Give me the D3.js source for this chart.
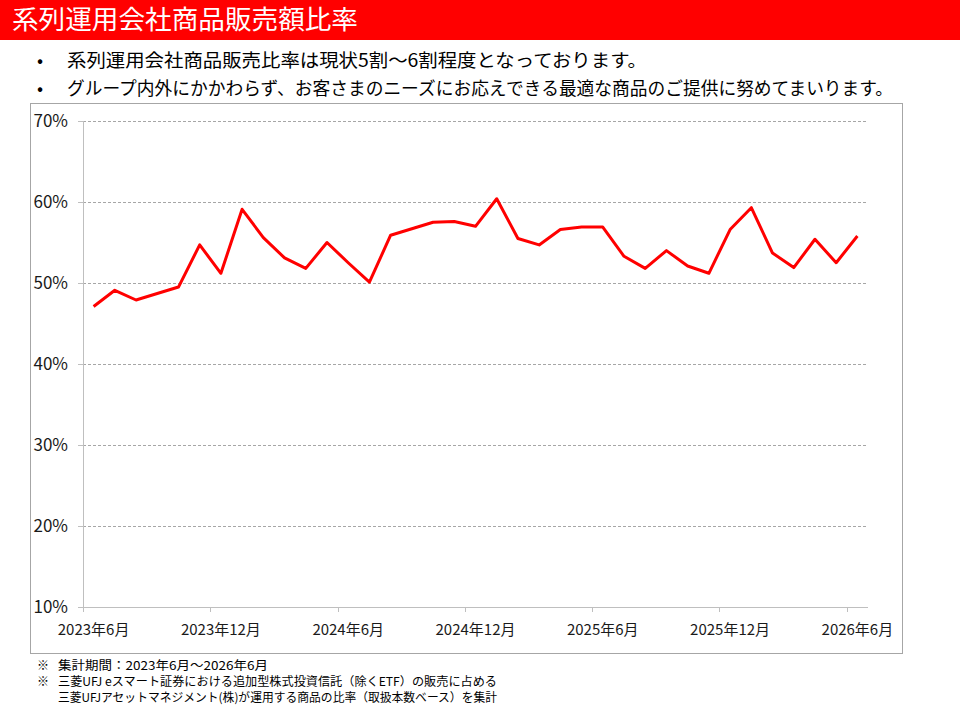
<!DOCTYPE html>
<html lang="ja">
<head>
<meta charset="utf-8">
<script src="https://cdn.jsdelivr.net/npm/d3@7"></script>
<style>
  body { margin: 0; background: #fff; }
  svg { display: block; font-family: "Noto Sans CJK JP", "Noto Sans", sans-serif; }
</style>
</head>
<body>
<div id="container"></div>
<script>
// months on the x axis (one category per month)
const months = [
  "2023-06", "2023-07", "2023-08", "2023-09", "2023-10", "2023-11", "2023-12",
  "2024-01", "2024-02", "2024-03", "2024-04", "2024-05", "2024-06",
  "2024-07", "2024-08", "2024-09", "2024-10", "2024-11", "2024-12",
  "2025-01", "2025-02", "2025-03", "2025-04", "2025-05", "2025-06",
  "2025-07", "2025-08", "2025-09", "2025-10", "2025-11", "2025-12",
  "2026-01", "2026-02", "2026-03", "2026-04", "2026-05", "2026-06"
];

// share of sales (%)
const ratio = [
  47.1, 49.1, 47.9, 48.7, 49.5, 54.7, 51.2,
  59.1, 55.6, 53.1, 51.8, 55.0, 52.5,
  50.1, 55.9, 56.7, 57.5, 57.6, 57.0,
  60.4, 55.5, 54.7, 56.6, 56.9, 56.9,
  53.3, 51.8, 54.0, 52.1, 51.2, 56.6,
  59.3, 53.7, 51.9, 55.4, 52.5, 55.8
];

// x tick labels, every 6 months
const tickMonths = ["2023-06", "2023-12", "2024-06", "2024-12", "2025-06", "2025-12", "2026-06"];
const tickLabels = ["2023年6月", "2023年12月", "2024年6月", "2024年12月", "2025年6月", "2025年12月", "2026年6月"];

const yTicks = [10, 20, 30, 40, 50, 60, 70];

const title = "系列運用会社商品販売額比率";
const bullets = [
  "系列運用会社商品販売比率は現状5割～6割程度となっております。",
  "グループ内外にかかわらず、お客さまのニーズにお応えできる最適な商品のご提供に努めてまいります。"
];
const notes = [
  "集計期間：2023年6月～2026年6月",
  "三菱UFJ eスマート証券における追加型株式投資信託（除くETF）の販売に占める",
  "三菱UFJアセットマネジメント(株)が運用する商品の比率（取扱本数ベース）を集計"
];

const width = 960;
const height = 720;

const svg = d3.create("svg")
  .attr("viewBox", [0, 0, width, height])
  .attr("width", width)
  .attr("height", height);

// header band
svg.append("rect")
  .attr("x", 0).attr("y", 0)
  .attr("width", width).attr("height", 40)
  .attr("fill", "#ff0000");

svg.append("text")
  .attr("x", 12).attr("y", 29)
  .attr("fill", "#fff")
  .attr("font-size", 26)
  .attr("textLength", 346)
  .attr("lengthAdjust", "spacingAndGlyphs")
  .text(title);

// bullet lines
const bulletWidths = [580, 826];
bullets.forEach((b, i) => {
  const y = 67 + i * 28;
  svg.append("text").attr("x", 37).attr("y", y).attr("font-size", 18).attr("fill", "#000").text("•");
  svg.append("text")
    .attr("x", 67).attr("y", y)
    .attr("font-size", 18)
    .attr("fill", "#000")
    .attr("textLength", bulletWidths[i])
    .attr("lengthAdjust", "spacingAndGlyphs")
    .text(b);
});

// chart frame
svg.append("rect")
  .attr("x", 30.5).attr("y", 103.5)
  .attr("width", 872).attr("height", 550)
  .attr("fill", "none")
  .attr("stroke", "#a6a6a6");

// scales
const x = d3.scaleBand().domain(months).range([83, 868]).padding(0);
const y = d3.scaleLinear().domain([10, 70]).range([607, 121]);

// gridlines (dashed)
svg.append("g")
  .selectAll("line")
  .data(yTicks.filter((d) => d > 10))
  .join("line")
  .attr("x1", 83).attr("x2", 868)
  .attr("y1", (d) => Math.round(y(d)) + 0.5)
  .attr("y2", (d) => Math.round(y(d)) + 0.5)
  .attr("stroke", "#a6a6a6")
  .attr("stroke-dasharray", "3,2");

// y axis
const yAxis = svg.append("g");
yAxis.append("line")
  .attr("x1", 83.5).attr("x2", 83.5)
  .attr("y1", y(70)).attr("y2", y(10))
  .attr("stroke", "#bfbfbf");
yAxis.selectAll(".tick")
  .data(yTicks)
  .join("line")
  .attr("x1", 78).attr("x2", 83)
  .attr("y1", (d) => Math.round(y(d)) + 0.5)
  .attr("y2", (d) => Math.round(y(d)) + 0.5)
  .attr("stroke", "#bfbfbf");
yAxis.selectAll("text")
  .data(yTicks)
  .join("text")
  .attr("x", 68)
  .attr("y", (d) => y(d))
  .attr("dy", "0.36em")
  .attr("text-anchor", "end")
  .attr("font-size", 17)
  .attr("fill", "#1a1a1a")
  .text((d) => d + "%");

// x axis
const xAxis = svg.append("g");
xAxis.append("line")
  .attr("x1", 83).attr("x2", 868)
  .attr("y1", Math.round(y(10)) + 0.5).attr("y2", Math.round(y(10)) + 0.5)
  .attr("stroke", "#bfbfbf");
xAxis.selectAll("line.tick")
  .data(tickMonths)
  .join("line")
  .attr("class", "tick")
  .attr("x1", (d) => Math.round(x(d)) + 0.5)
  .attr("x2", (d) => Math.round(x(d)) + 0.5)
  .attr("y1", y(10)).attr("y2", y(10) + 5)
  .attr("stroke", "#bfbfbf");
xAxis.selectAll("text")
  .data(tickMonths)
  .join("text")
  .attr("x", (d) => x(d) + x.bandwidth() / 2)
  .attr("y", 635)
  .attr("text-anchor", "middle")
  .attr("font-size", 15)
  .attr("fill", "#1a1a1a")
  .text((d, i) => tickLabels[i]);

// the line
const line = d3.line()
  .x((d, i) => x(months[i]) + x.bandwidth() / 2)
  .y((d) => y(d));

svg.append("path")
  .datum(ratio)
  .attr("d", line)
  .attr("fill", "none")
  .attr("stroke", "#ff0000")
  .attr("stroke-width", 3)
  .attr("stroke-linejoin", "round");

// footnotes
const noteWidths = [210, 439, 439];
notes.forEach((n, i) => {
  const ny = 670 + i * 16;
  if (i < 2) {
    svg.append("text").attr("x", 37).attr("y", ny).attr("font-size", 12).attr("fill", "#000").text("※");
  }
  svg.append("text")
    .attr("x", 58).attr("y", ny)
    .attr("font-size", 12)
    .attr("fill", "#000")
    .attr("textLength", noteWidths[i])
    .attr("lengthAdjust", "spacingAndGlyphs")
    .text(n);
});

document.getElementById("container").append(svg.node());
</script>
</body>
</html>
